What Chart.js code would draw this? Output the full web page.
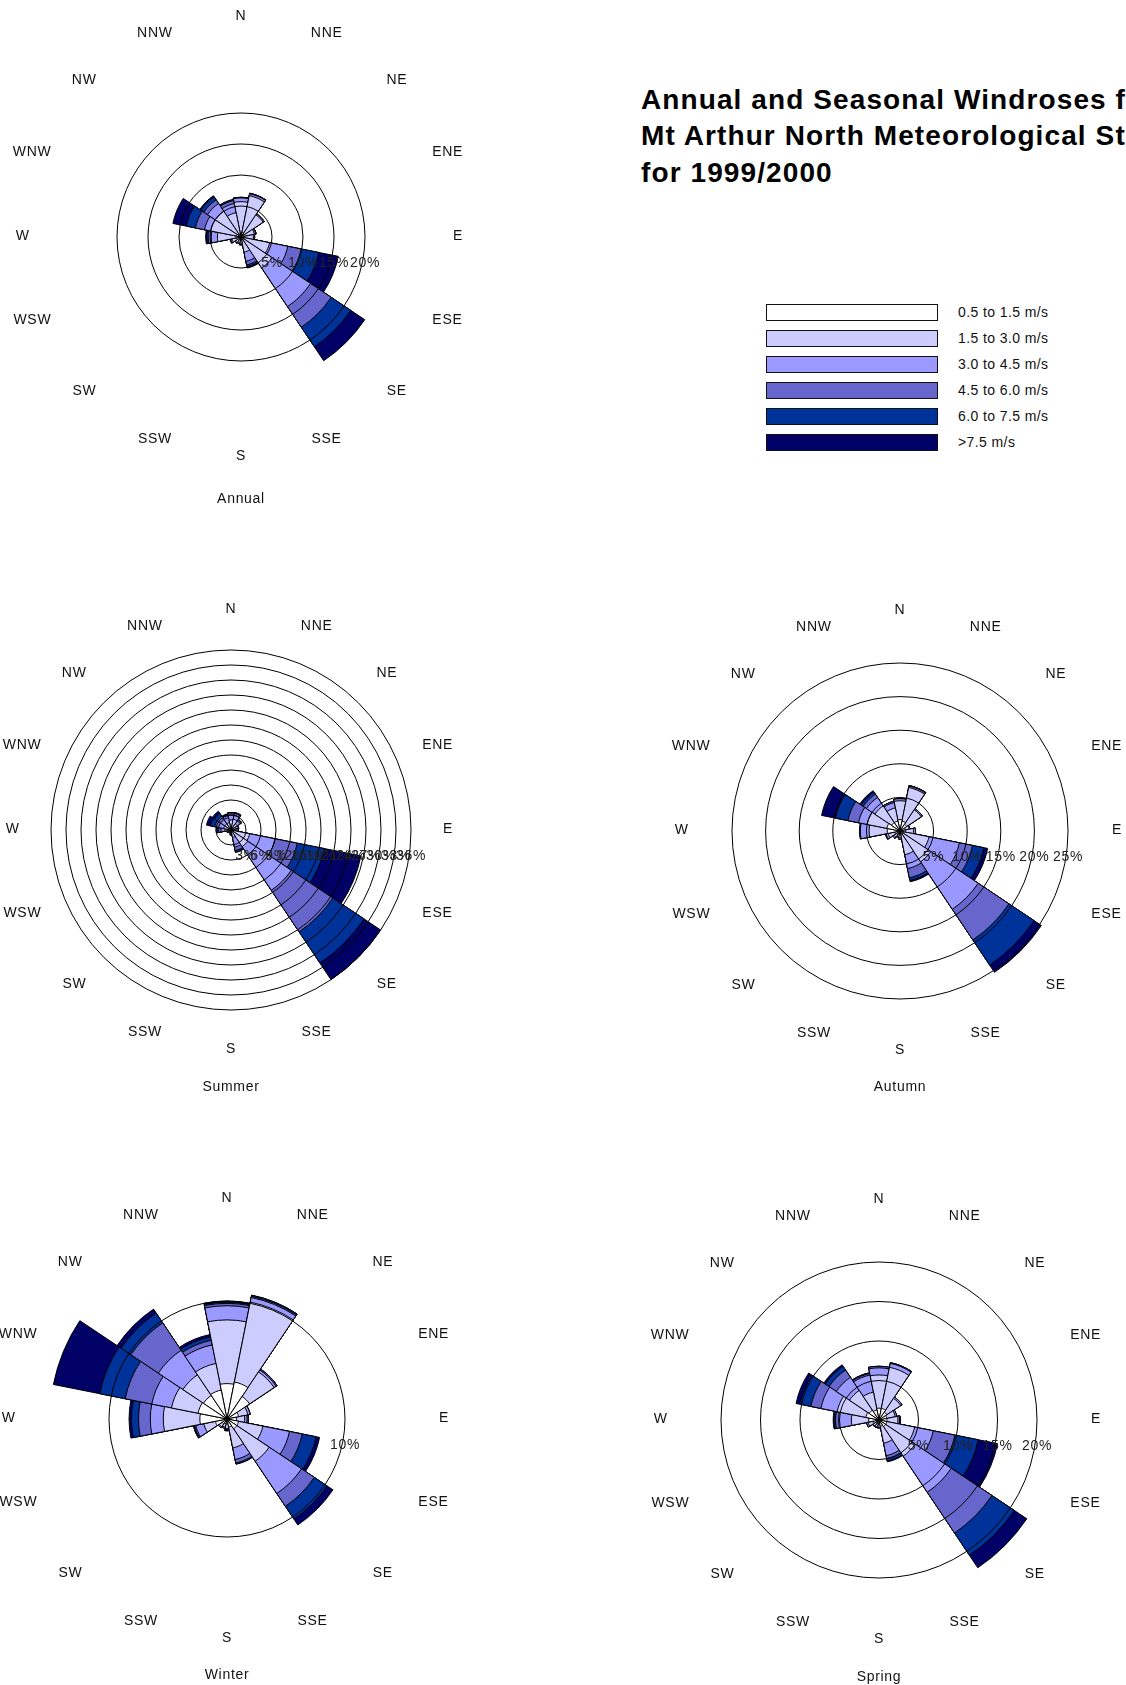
<!DOCTYPE html>
<html>
<head>
<meta charset="utf-8">
<script src="https://cdn.jsdelivr.net/npm/chart.js@4.4.1/dist/chart.umd.min.js"></script>
<style>
  html, body { margin: 0; padding: 0; background: #fff; }
  #page { position: relative; width: 1126px; height: 1685px; overflow: hidden;
          font-family: "Liberation Sans", Arial, sans-serif; color: #111; }
  .rose { position: absolute; width: 540px; height: 540px; }
  #title { position: absolute; left: 641px; top: 82px; font-weight: bold; font-size: 28px;
           line-height: 36.3px; letter-spacing: 1.1px; white-space: nowrap; color: #000; }
  #legend { position: absolute; left: 766px; top: 304px; }
  .row { position: relative; height: 26.1px; }
  .swatch { position: absolute; left: 0; top: 0; width: 170px; height: 15px; border: 1.3px solid #111; }
  .lbl { position: absolute; left: 192px; top: 0; font-size: 14px; line-height: 17px;
         letter-spacing: 0.4px; white-space: nowrap; }
</style>
</head>
<body>
<div id="page">
  <div id="title">Annual and Seasonal Windroses for<br>Mt Arthur North Meteorological Station<br>for 1999/2000</div>
  <div id="legend"></div>
  <canvas id="annual" class="rose" width="540" height="540"></canvas>
  <canvas id="summer" class="rose" width="540" height="540"></canvas>
  <canvas id="autumn" class="rose" width="540" height="540"></canvas>
  <canvas id="winter" class="rose" width="540" height="540"></canvas>
  <canvas id="spring" class="rose" width="540" height="540"></canvas>
</div>
<script>
// wind directions, clockwise from north
const directions = ['N', 'NNE', 'NE', 'ENE', 'E', 'ESE', 'SE', 'SSE',
                    'S', 'SSW', 'SW', 'WSW', 'W', 'WNW', 'NW', 'NNW'];

const speedClasses = ['0.5 to 1.5 m/s', '1.5 to 3.0 m/s', '3.0 to 4.5 m/s',
                      '4.5 to 6.0 m/s', '6.0 to 7.5 m/s', '>7.5 m/s'];

// % of time, cumulative up to the top of each speed class (one row per direction)
const annualCum = [
  [0.6, 5.7, 6.3, 6.4, 6.4, 6.4],
  [0.8, 6.8, 7.1, 7.2, 7.2, 7.2],
  [0.6, 4.3, 4.5, 4.5, 4.5, 4.5],
  [0.4, 2.2, 2.4, 2.5, 2.5, 2.5],
  [0.4, 2.0, 2.2, 2.2, 2.2, 2.2],
  [0.3, 4.7, 7.7, 9.9, 12.8, 16.0],
  [0.5, 6.0, 13.5, 17.5, 21.3, 24.0],
  [0.3, 2.5, 4.0, 4.6, 4.9, 5.1],
  [0.3, 1.0, 1.2, 1.2, 1.3, 1.3],
  [0.3, 1.0, 1.1, 1.1, 1.1, 1.1],
  [0.3, 1.1, 1.2, 1.2, 1.2, 1.2],
  [0.4, 1.5, 1.7, 1.8, 1.8, 1.8],
  [0.8, 3.8, 4.8, 5.3, 5.5, 5.7],
  [0.8, 5.0, 6.0, 7.5, 9.0, 11.2],
  [0.6, 5.0, 6.5, 7.2, 7.8, 8.0],
  [0.5, 4.0, 5.5, 6.0, 6.1, 6.2]
];

const summerCum = [
  [0.2, 2.0, 3.0, 3.4, 3.5, 3.5],
  [0.2, 2.2, 3.0, 3.4, 3.5, 3.6],
  [0.2, 1.5, 2.2, 2.5, 2.6, 2.6],
  [0.2, 1.0, 1.5, 1.6, 1.6, 1.6],
  [0.2, 1.0, 1.4, 1.5, 1.5, 1.5],
  [0.2, 3.8, 9.0, 13.5, 19.0, 26.5],
  [0.2, 4.0, 14.5, 24.5, 32.0, 36.0],
  [0.2, 1.5, 3.5, 4.2, 4.5, 4.6],
  [0.1, 0.6, 0.9, 1.0, 1.0, 1.0],
  [0.1, 0.5, 0.6, 0.6, 0.6, 0.6],
  [0.1, 0.5, 0.6, 0.6, 0.6, 0.6],
  [0.1, 0.6, 0.8, 0.9, 0.9, 0.9],
  [0.2, 1.2, 2.0, 2.5, 2.8, 3.0],
  [0.2, 1.5, 2.5, 3.3, 4.2, 5.0],
  [0.2, 1.5, 2.5, 3.3, 4.0, 4.5],
  [0.2, 1.5, 2.5, 3.0, 3.2, 3.3]
];

const autumnCum = [
  [1.7, 4.5, 4.8, 4.8, 4.8, 4.8],
  [1.5, 6.6, 6.8, 6.9, 6.9, 6.9],
  [1.2, 3.8, 4.0, 4.0, 4.0, 4.0],
  [0.8, 1.4, 1.5, 1.5, 1.5, 1.5],
  [0.8, 2.0, 2.3, 2.3, 2.3, 2.3],
  [0.5, 4.4, 9.0, 11.0, 12.7, 13.3],
  [0.5, 5.5, 14.0, 19.5, 24.0, 25.3],
  [0.5, 3.6, 5.7, 7.1, 7.5, 7.7],
  [0.5, 1.0, 1.2, 1.2, 1.2, 1.2],
  [0.5, 0.9, 1.0, 1.0, 1.0, 1.0],
  [0.6, 1.1, 1.3, 1.3, 1.3, 1.3],
  [0.8, 1.8, 2.1, 2.2, 2.2, 2.2],
  [1.9, 4.6, 5.9, 6.0, 6.0, 6.0],
  [2.0, 5.0, 6.3, 7.9, 9.8, 11.9],
  [1.5, 4.5, 6.0, 6.6, 7.0, 7.2],
  [1.5, 3.5, 4.3, 4.5, 4.5, 4.5]
];

const winterCum = [
  [3.0, 8.4, 9.6, 9.8, 9.9, 10.0],
  [3.2, 10.1, 10.5, 10.6, 10.7, 10.7],
  [2.3, 4.8, 5.0, 5.1, 5.1, 5.1],
  [1.0, 1.8, 2.0, 2.0, 2.0, 2.0],
  [0.8, 1.5, 1.7, 1.8, 1.8, 1.8],
  [1.0, 3.1, 5.4, 6.5, 7.7, 8.0],
  [1.0, 4.3, 7.6, 8.9, 10.2, 10.8],
  [0.7, 2.5, 3.5, 3.8, 3.9, 3.9],
  [0.4, 0.8, 0.9, 0.9, 1.0, 1.0],
  [0.4, 0.7, 0.8, 0.8, 0.8, 0.8],
  [0.5, 0.8, 0.9, 0.9, 0.9, 0.9],
  [1.0, 2.0, 2.7, 2.8, 2.9, 2.9],
  [2.3, 5.4, 6.5, 7.5, 8.1, 8.3],
  [2.5, 4.8, 6.5, 8.8, 11.0, 15.0],
  [2.4, 4.5, 7.0, 9.8, 10.8, 11.2],
  [2.5, 4.8, 6.4, 6.8, 7.1, 7.3]
];

const springCum = [
  [1.5, 5.7, 6.6, 6.8, 6.8, 6.8],
  [1.5, 6.8, 7.3, 7.4, 7.4, 7.4],
  [1.2, 3.3, 3.5, 3.5, 3.5, 3.5],
  [1.0, 2.1, 2.3, 2.3, 2.3, 2.3],
  [1.0, 2.4, 2.6, 2.7, 2.7, 2.7],
  [1.0, 4.6, 7.0, 9.8, 12.8, 15.3],
  [1.0, 5.5, 11.0, 17.2, 20.6, 22.5],
  [0.8, 3.0, 4.6, 5.0, 5.3, 5.4],
  [0.5, 0.9, 1.0, 1.0, 1.0, 1.0],
  [0.5, 0.9, 1.0, 1.0, 1.0, 1.0],
  [0.5, 0.9, 1.0, 1.0, 1.0, 1.0],
  [0.8, 1.4, 1.6, 1.6, 1.6, 1.6],
  [1.3, 3.5, 5.1, 5.5, 5.7, 5.8],
  [1.7, 5.4, 7.5, 8.8, 10.2, 10.7],
  [1.5, 4.5, 6.5, 7.6, 8.2, 8.4],
  [1.3, 3.6, 5.8, 6.0, 6.1, 6.1]
];

// ring values (%) of each rose
const annualRings = [5, 10, 15, 20];
const summerRings = [3, 6, 9, 12, 15, 18, 21, 24, 27, 30, 33, 36];
const autumnRings = [5, 10, 15, 20, 25];
const winterRings = [10];
const springRings = [5, 10, 15, 20];

const bandColors = ['#ffffff', '#ccccff', '#9999ff', '#6666cc', '#003399', '#000066'];

// where each rose sits on the page (centre, outer ring radius, caption offset in px)
const roses = [
  { id: 'annual', caption: 'Annual', cum: annualCum, rings: annualRings, cx: 241, cy: 237, ringPx: 124, capDy: 262 },
  { id: 'summer', caption: 'Summer', cum: summerCum, rings: summerRings, cx: 231, cy: 830, ringPx: 180, capDy: 257 },
  { id: 'autumn', caption: 'Autumn', cum: autumnCum, rings: autumnRings, cx: 900, cy: 831, ringPx: 168, capDy: 256 },
  { id: 'winter', caption: 'Winter', cum: winterCum, rings: winterRings, cx: 227, cy: 1419, ringPx: 118, capDy: 256 },
  { id: 'spring', caption: 'Spring', cum: springCum, rings: springRings, cx: 879, cy: 1420, ringPx: 158, capDy: 257 }
];

const HALF = 270;

// legend
const legendEl = document.getElementById('legend');
speedClasses.forEach((name, k) => {
  const row = document.createElement('div');
  row.className = 'row';
  row.innerHTML = '<div class="swatch" style="background:' + bandColors[k] + '"></div><div class="lbl">' +
    name.replace('>', '&gt;') + '</div>';
  legendEl.appendChild(row);
});

// compass points, ring percentages and caption
const roseText = {
  id: 'roseText',
  afterDraw(chart, args, opts) {
    const s = chart.scales.r;
    const ctx = chart.ctx;
    ctx.save();
    ctx.fillStyle = '#111';
    ctx.font = '14px "Liberation Sans", Arial, sans-serif';
    ctx.textAlign = 'center';
    ctx.textBaseline = 'middle';
    ctx.letterSpacing = '0.7px';
    directions.forEach((d, i) => {
      const a = i * 2 * Math.PI / directions.length;
      // wider labels sit a little further out sideways
      const rx = 214 + 0.625 * ctx.measureText(d).width / 2;
      ctx.fillText(d, s.xCenter + rx * Math.sin(a), s.yCenter - 1 - 220 * Math.cos(a));
    });
    ctx.fillStyle = '#222';
    s.ticks.forEach(t => {
      if (t.value > 0) {
        ctx.fillText(t.value + '%', s.xCenter + s.getDistanceFromCenterForValue(t.value), s.yCenter + 26);
      }
    });
    ctx.fillStyle = '#111';
    ctx.fillText(opts.caption, s.xCenter, s.yCenter + opts.capDy);
    ctx.restore();
  }
};

roses.forEach(rose => {
  const canvas = document.getElementById(rose.id);
  canvas.style.left = (rose.cx - HALF) + 'px';
  canvas.style.top = (rose.cy - HALF) + 'px';

  // dataset 0 is drawn last, so the smallest cumulative band ends up on top
  const datasets = bandColors.map((c, k) => ({
    label: speedClasses[k],
    data: rose.cum.map(row => row[k]),
    backgroundColor: c,
    borderColor: '#000',
    borderWidth: 1,
    clip: false
  }));

  new Chart(canvas, {
    type: 'polarArea',
    data: { labels: directions, datasets },
    options: {
      responsive: false,
      animation: false,
      events: [],
      layout: { padding: HALF - rose.ringPx },
      plugins: {
        legend: { display: false },
        tooltip: { enabled: false },
        roseText: { caption: rose.caption, capDy: rose.capDy }
      },
      scales: {
        r: {
          min: 0,
          max: rose.rings[rose.rings.length - 1],
          startAngle: -11.25,
          ticks: { display: false, stepSize: rose.rings[0] },
          grid: { color: '#000', lineWidth: 1, circular: true, z: 1 },
          angleLines: { display: false },
          pointLabels: { display: false }
        }
      }
    },
    plugins: [roseText]
  });
});
</script>
</body>
</html>
